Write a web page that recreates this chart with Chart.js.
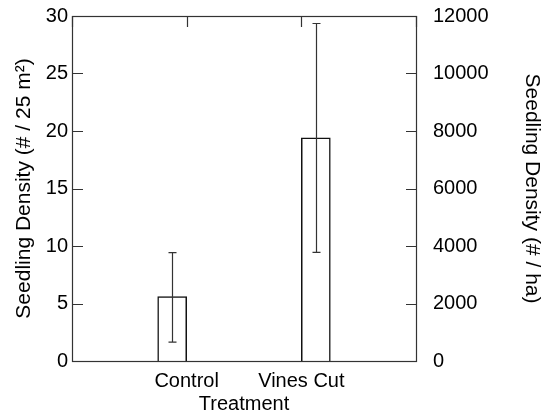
<!DOCTYPE html>
<html>
<head>
<meta charset="utf-8">
<script src="https://cdn.jsdelivr.net/npm/chart.js@4/dist/chart.umd.min.js"></script>
<style>
  html, body { margin: 0; padding: 0; background: #fff; }
  #wrap { width: 542px; height: 414px; }
</style>
</head>
<body>
<div id="wrap"><canvas id="myChart"></canvas></div>
<script>
// seedling density per 25 m2, mean with error bar ends
const categories = ['Control', 'Vines Cut']
const meanDensity = [5.6, 19.4]
const errLow = [1.65, 9.45]
const errHigh = [9.42, 29.35]

const leftMax = 30
const leftStep = 5
const rightMax = 12000
const rightStep = 2000

const FONT = "'Liberation Sans', Arial, Helvetica, sans-serif"

// blank slots at both ends so the two groups sit at 1/3 and 2/3
const xLabels = ['', ...categories, '']

const datasets = categories.map((c, i) => ({
	label: c,
	data: xLabels.map((l, j) => (j == i + 1 ? meanDensity[i] : null)),
	backgroundColor: '#fff',
	borderColor: '#111',
	borderWidth: 1.5,
	barThickness: 29,
	errLow: errLow[i],
	errHigh: errHigh[i],
}))

const frameAndErrors = {
	id: 'frameAndErrors',
	afterDatasetsDraw(chart) {
		const ctx = chart.ctx
		const a = chart.chartArea
		const y = chart.scales.y
		const y2 = chart.scales.y2
		const x = chart.scales.x
		ctx.save()

		// error bars
		ctx.strokeStyle = '#333'
		ctx.lineWidth = 1.2
		chart.data.datasets.forEach((ds, i) => {
			const meta = chart.getDatasetMeta(i)
			meta.data.forEach((bar, j) => {
				if (ds.data[j] == null) return
				const px = Math.round(bar.x) + 0.5
				const top = y.getPixelForValue(ds.errHigh)
				const bot = y.getPixelForValue(ds.errLow)
				ctx.beginPath()
				ctx.moveTo(px, top)
				ctx.lineTo(px, bot)
				ctx.moveTo(px - 4, top)
				ctx.lineTo(px + 4, top)
				ctx.moveTo(px - 4, bot)
				ctx.lineTo(px + 4, bot)
				ctx.stroke()
			})
		})

		// frame
		ctx.strokeStyle = '#333'
		ctx.lineWidth = 1.2
		ctx.strokeRect(a.left + 0.5, a.top + 0.5, a.right - a.left, a.bottom - a.top)

		// inward ticks
		ctx.beginPath()
		y.ticks.forEach((t) => {
			const py = Math.round(y.getPixelForValue(t.value)) + 0.5
			ctx.moveTo(a.left, py)
			ctx.lineTo(a.left + 11, py)
		})
		y2.ticks.forEach((t) => {
			const py = Math.round(y2.getPixelForValue(t.value)) + 0.5
			ctx.moveTo(a.right, py)
			ctx.lineTo(a.right - 10, py)
		})
		x.ticks.forEach((t, i) => {
			const px = Math.round(x.getPixelForTick(i)) + 0.5
			ctx.moveTo(px, a.top)
			ctx.lineTo(px, a.top + 11)
		})
		ctx.stroke()
		ctx.restore()
	},
}

const ctx = document.getElementById('myChart').getContext('2d')
const myChart = new Chart(ctx, {
	type: 'bar',
	data: {
		labels: xLabels,
		datasets: datasets,
	},
	plugins: [frameAndErrors],
	options: {
		responsive: true,
		maintainAspectRatio: false,
		animation: false,
		layout: {
			padding: 0,
		},
		plugins: {
			legend: { display: false },
			tooltip: { enabled: false },
		},
		scales: {
			x: {
				offset: false,
				grid: { display: false, drawTicks: false },
				border: { display: false },
				ticks: {
					autoSkip: false,
					maxRotation: 0,
					padding: 8,
					color: '#000',
					font: { family: FONT, size: 20 },
				},
				title: {
					display: true,
					text: 'Treatment',
					color: '#000',
					padding: { top: 0, bottom: 0 },
					font: { family: FONT, size: 20, lineHeight: 1 },
				},
				afterFit: (s) => {
					s.height = 53
				},
			},
			y: {
				position: 'left',
				min: 0,
				max: leftMax,
				grid: { display: false, drawTicks: false },
				border: { display: false },
				ticks: {
					stepSize: leftStep,
					padding: 4,
					color: '#000',
					font: { family: FONT, size: 20 },
				},
				title: {
					display: true,
					text: 'Seedling Density (# / 25 m²)',
					color: '#000',
					padding: { top: 14, bottom: 0 },
					font: { family: FONT, size: 21, lineHeight: 1 },
				},
				afterFit: (s) => {
					s.width = 72
				},
			},
			y2: {
				position: 'right',
				min: 0,
				max: rightMax,
				// invisible tick marks push the labels out without growing top padding
				grid: {
					display: true,
					drawOnChartArea: false,
					drawTicks: true,
					tickLength: 13,
					color: 'rgba(0,0,0,0)',
				},
				border: { display: false },
				ticks: {
					stepSize: rightStep,
					padding: 4,
					color: '#000',
					font: { family: FONT, size: 20 },
					callback: (v) => String(v),
				},
				title: {
					display: true,
					text: 'Seedling Density (# / ha)',
					color: '#000',
					padding: { top: 0, bottom: 0 },
					font: { family: FONT, size: 21, lineHeight: 1 },
				},
				afterFit: (s) => {
					s.width = 126
				},
			},
		},
	},
})
</script>
</body>
</html>
